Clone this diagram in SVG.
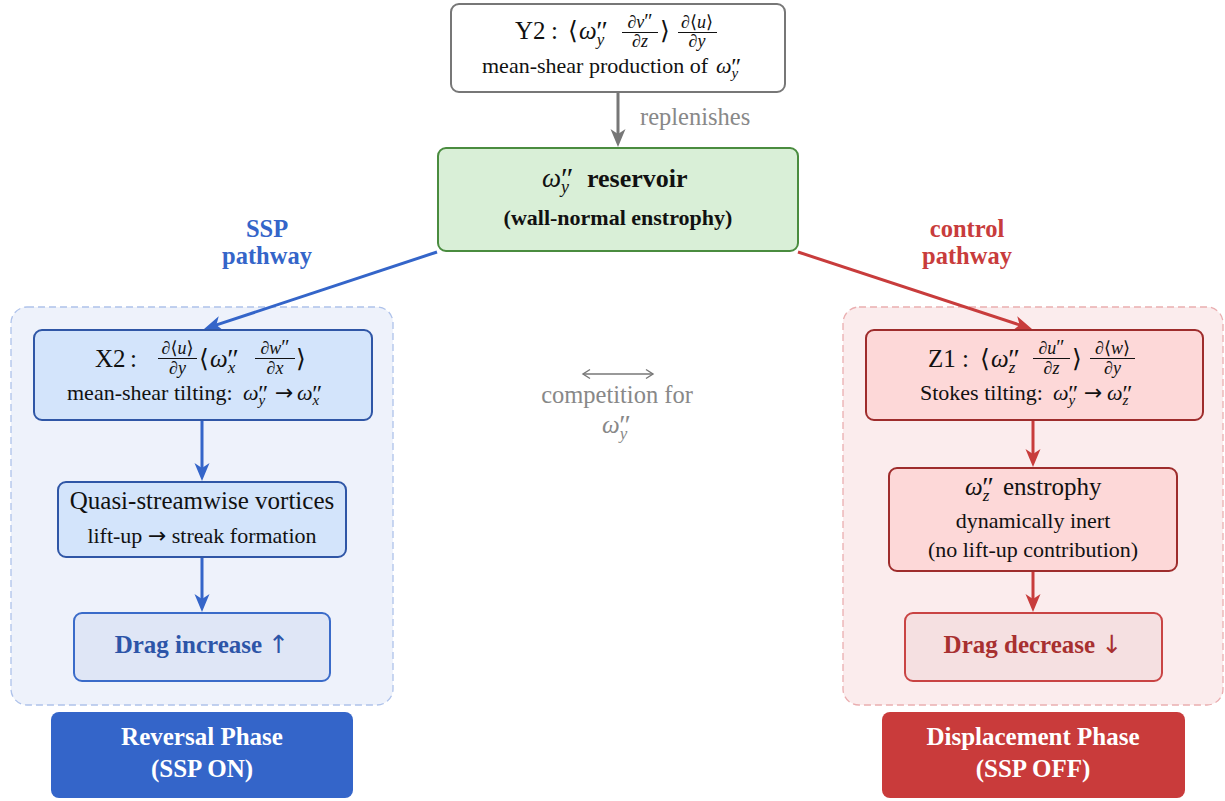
<svg xmlns="http://www.w3.org/2000/svg" width="1225" height="801" viewBox="0 0 1225 801">
  <defs>
    <style>
      text { font-family: "Liberation Serif", "Times New Roman", serif; fill: #111; }
      .it { font-style: italic; }
      .b { font-weight: bold; }
      .ang { font-family: "DejaVu Serif", "DejaVu Sans", serif; font-style: normal; font-weight: normal; }
      .arr { font-family: "DejaVu Sans", sans-serif; font-style: normal; font-weight: normal; }
      .f25 { font-size: 25px; }
      .f22 { font-size: 22px; }
      .f18 { font-size: 18px; }
      .f17 { font-size: 17px; }
      .f15 { font-size: 15px; }
      .pr25 { font-size: 28px; font-style: normal; }
      .pr22 { font-size: 24px; font-style: normal; }
      .pr18 { font-size: 20px; font-style: normal; }
      .mid { text-anchor: middle; }
      .fr { stroke: #111; stroke-width: 1.1; }
      .gray { fill: #888; }
      .blue { fill: #3465c9; }
      .red { fill: #c83c3c; }
      .white { fill: #fff; }
      .node { stroke-width: 2; }
      .conn { fill: none; stroke-width: 3; }
    </style>
    <marker id="ahGray" viewBox="-20 -10 22 20" refX="-10" refY="0" markerWidth="22" markerHeight="20" markerUnits="userSpaceOnUse" orient="auto">
      <path d="M0,0 L-18,-7.5 L-13,0 L-18,7.5 Z" fill="#777"/>
    </marker>
    <marker id="ahBlue" viewBox="-20 -10 22 20" refX="-10" refY="0" markerWidth="22" markerHeight="20" markerUnits="userSpaceOnUse" orient="auto">
      <path d="M0,0 L-18,-7.5 L-13,0 L-18,7.5 Z" fill="#3465c9"/>
    </marker>
    <marker id="ahRed" viewBox="-20 -10 22 20" refX="-10" refY="0" markerWidth="22" markerHeight="20" markerUnits="userSpaceOnUse" orient="auto">
      <path d="M0,0 L-18,-7.5 L-13,0 L-18,7.5 Z" fill="#c83c3c"/>
    </marker>
    <marker id="chev" viewBox="-10 -6 12 12" refX="0" refY="0" markerWidth="12" markerHeight="12" markerUnits="userSpaceOnUse" orient="auto-start-reverse">
      <path d="M-7,-4.5 L0,0 L-7,4.5" fill="none" stroke="#777" stroke-width="1.4"/>
    </marker>
  </defs>

  <rect width="1225" height="801" fill="#fff"/>

  <!-- pathway containers -->
  <g id="group-ssp">
    <rect x="11" y="307" width="382" height="398" rx="16" fill="#eef2fb" stroke="#aec2ea" stroke-width="1.3" stroke-dasharray="7 4"/>
  </g>
  <g id="group-control">
    <rect x="843" y="307" width="380" height="398" rx="16" fill="#fbeced" stroke="#eaaeb0" stroke-width="1.3" stroke-dasharray="7 4"/>
  </g>

  <!-- connectors -->
  <g id="connectors">
    <line class="conn" x1="618" y1="92" x2="618" y2="137" stroke="#777" marker-end="url(#ahGray)"/>
    <line class="conn" x1="437" y1="252" x2="213.5" y2="325.9" stroke="#3465c9" marker-end="url(#ahBlue)"/>
    <line class="conn" x1="798" y1="252" x2="1022.5" y2="325.9" stroke="#c83c3c" marker-end="url(#ahRed)"/>
    <line class="conn" x1="202" y1="420" x2="202" y2="471" stroke="#3465c9" marker-end="url(#ahBlue)"/>
    <line class="conn" x1="202" y1="557" x2="202" y2="602" stroke="#3465c9" marker-end="url(#ahBlue)"/>
    <line class="conn" x1="1033" y1="420" x2="1033" y2="457" stroke="#c83c3c" marker-end="url(#ahRed)"/>
    <line class="conn" x1="1033" y1="571" x2="1033" y2="602" stroke="#c83c3c" marker-end="url(#ahRed)"/>
    <line x1="583" y1="374" x2="653" y2="374" stroke="#777" stroke-width="1.4" marker-start="url(#chev)" marker-end="url(#chev)"/>
  </g>

  <!-- edge labels -->
  <g id="label-replenishes">
    <text x="640" y="125" class="gray" font-size="24.5">replenishes</text>
  </g>
  <g id="label-ssp">
    <text x="267" y="237" class="b blue mid" font-size="24.5">SSP</text>
    <text x="267" y="264" class="b blue mid" font-size="24.5">pathway</text>
  </g>
  <g id="label-control">
    <text x="967" y="237" class="b red mid" font-size="24.5">control</text>
    <text x="967" y="264" class="b red mid" font-size="24.5">pathway</text>
  </g>
  <g id="label-competition">
    <text x="617" y="403" class="gray mid" font-size="24.5">competition for</text>
    <text x="602" y="433" class="gray it f25">ω<tspan class="f17" dy="6">y</tspan><tspan class="pr25" dx="-8" dy="-5">″</tspan></text>
  </g>

  <!-- Y2: mean-shear production -->
  <g id="node-y2">
    <rect class="node" x="451" y="4" width="334" height="88" rx="8" fill="#fff" stroke="#777"/>
    <text y="39" class="f25"><tspan x="515">Y2</tspan><tspan x="551">:</tspan><tspan x="568" class="ang">⟨</tspan><tspan x="579" class="it">ω</tspan><tspan class="it f17" dy="6">y</tspan><tspan class="pr25" dx="-8" dy="-5">″</tspan><tspan x="640" y="28" class="it f18 mid">∂v<tspan class="pr18">″</tspan></tspan><tspan x="640" y="47" class="it f18 mid">∂z</tspan><tspan x="660" y="39" class="ang">⟩</tspan><tspan x="697" y="28" class="f18 mid"><tspan class="it">∂</tspan><tspan class="ang">⟨</tspan><tspan class="it">u</tspan><tspan class="ang">⟩</tspan></tspan><tspan x="697" y="47" class="it f18 mid">∂y</tspan></text>
    <line class="fr" x1="622" y1="32.5" x2="658" y2="32.5"/>
    <line class="fr" x1="678" y1="32.5" x2="717" y2="32.5"/>
    <text y="73" class="f22"><tspan x="482">mean-shear production of</tspan><tspan x="716" class="it">ω</tspan><tspan class="it f15" dy="5">y</tspan><tspan class="pr22" dx="-7" dy="-4">″</tspan></text>
  </g>

  <!-- reservoir -->
  <g id="node-reservoir">
    <rect class="node" x="438" y="148" width="360" height="103" rx="8" fill="#d9efd7" stroke="#4a8c3f"/>
    <text y="187"><tspan x="542" class="it" font-size="27">ω</tspan><tspan class="it" font-size="18" dy="6">y</tspan><tspan font-size="30" dx="-8" dy="-5">″</tspan><tspan x="587" y="187" class="b" font-size="26">reservoir</tspan></text>
    <text x="618" y="225" class="b f22 mid">(wall-normal enstrophy)</text>
  </g>

  <!-- X2: mean-shear tilting -->
  <g id="node-x2">
    <rect class="node" x="34" y="330" width="338" height="90" rx="8" fill="#d3e4fb" stroke="#2f56a6"/>
    <text y="367" class="f25"><tspan x="95">X2</tspan><tspan x="130">:</tspan><tspan x="177.5" y="354" class="f18 mid"><tspan class="it">∂</tspan><tspan class="ang">⟨</tspan><tspan class="it">u</tspan><tspan class="ang">⟩</tspan></tspan><tspan x="177.5" y="373.5" class="it f18 mid">∂y</tspan><tspan x="199" y="367" class="ang">⟨</tspan><tspan x="210" class="it">ω</tspan><tspan class="it f17" dy="6">x</tspan><tspan class="pr25" dx="-8" dy="-5">″</tspan><tspan x="275" y="354" class="it f18 mid">∂w<tspan class="pr18">″</tspan></tspan><tspan x="275" y="373.5" class="it f18 mid">∂x</tspan><tspan x="296" y="367" class="ang">⟩</tspan></text>
    <line class="fr" x1="158" y1="358.5" x2="197" y2="358.5"/>
    <line class="fr" x1="255" y1="358.5" x2="295" y2="358.5"/>
    <text y="400" class="f22"><tspan x="67">mean-shear tilting:</tspan><tspan x="243" class="it">ω</tspan><tspan class="it f15" dy="5">y</tspan><tspan class="pr22" dx="-7" dy="-4">″</tspan><tspan x="275" y="400" class="arr">→</tspan><tspan x="297" class="it">ω</tspan><tspan class="it f15" dy="5">x</tspan><tspan class="pr22" dx="-7" dy="-4">″</tspan></text>
  </g>

  <!-- quasi-streamwise vortices -->
  <g id="node-qsv">
    <rect class="node" x="58" y="482" width="288" height="75" rx="8" fill="#d3e4fb" stroke="#2f56a6"/>
    <text x="202" y="509" class="f25 mid">Quasi-streamwise vortices</text>
    <text x="202" y="543" class="f22 mid">lift-up <tspan class="arr">→</tspan> streak formation</text>
  </g>

  <!-- drag increase -->
  <g id="node-drag-increase">
    <rect class="node" x="74" y="613" width="256" height="68" rx="8" fill="#dfe6f6" stroke="#3a6bc9"/>
    <text x="202" y="653" class="b f25 mid" style="fill:#2d55a8">Drag increase <tspan class="arr" style="fill:#2d55a8">↑</tspan></text>
  </g>

  <!-- reversal phase -->
  <g id="node-reversal">
    <rect x="51" y="712" width="302" height="86" rx="8" fill="#3465c9"/>
    <text x="202" y="745" class="b f25 mid white">Reversal Phase</text>
    <text x="202" y="777" class="b f25 mid white">(SSP ON)</text>
  </g>

  <!-- Z1: Stokes tilting -->
  <g id="node-z1">
    <rect class="node" x="866" y="330" width="337" height="90" rx="8" fill="#fdd8d8" stroke="#9e2c2c"/>
    <text y="367" class="f25"><tspan x="928">Z1</tspan><tspan x="962">:</tspan><tspan x="980" class="ang">⟨</tspan><tspan x="991" class="it">ω</tspan><tspan class="it f17" dy="6">z</tspan><tspan class="pr25" dx="-7" dy="-5">″</tspan><tspan x="1051.5" y="354" class="it f18 mid">∂u<tspan class="pr18">″</tspan></tspan><tspan x="1051.5" y="373.5" class="it f18 mid">∂z</tspan><tspan x="1072" y="367" class="ang">⟩</tspan><tspan x="1112.5" y="354" class="f18 mid"><tspan class="it">∂</tspan><tspan class="ang">⟨</tspan><tspan class="it">w</tspan><tspan class="ang">⟩</tspan></tspan><tspan x="1112.5" y="373.5" class="it f18 mid">∂y</tspan></text>
    <line class="fr" x1="1033" y1="358.5" x2="1070" y2="358.5"/>
    <line class="fr" x1="1090" y1="358.5" x2="1135" y2="358.5"/>
    <text y="400" class="f22"><tspan x="920">Stokes tilting:</tspan><tspan x="1053" class="it">ω</tspan><tspan class="it f15" dy="5">y</tspan><tspan class="pr22" dx="-7" dy="-4">″</tspan><tspan x="1084" y="400" class="arr">→</tspan><tspan x="1107" class="it">ω</tspan><tspan class="it f15" dy="5">z</tspan><tspan class="pr22" dx="-6" dy="-4">″</tspan></text>
  </g>

  <!-- spanwise enstrophy -->
  <g id="node-wz">
    <rect class="node" x="889" y="468" width="288" height="103" rx="8" fill="#fdd8d8" stroke="#9e2c2c"/>
    <text y="495" class="f25"><tspan x="965" class="it">ω</tspan><tspan class="it f17" dy="6">z</tspan><tspan class="pr25" dx="-7" dy="-5">″</tspan><tspan x="1003" y="495">enstrophy</tspan></text>
    <text x="1033" y="528" class="f22 mid">dynamically inert</text>
    <text x="1033" y="557" class="f22 mid">(no lift-up contribution)</text>
  </g>

  <!-- drag decrease -->
  <g id="node-drag-decrease">
    <rect class="node" x="905" y="613" width="257" height="68" rx="8" fill="#f5e0e1" stroke="#c94444"/>
    <text x="1033" y="653" class="b f25 mid" style="fill:#a83030">Drag decrease <tspan class="arr" style="fill:#a83030">↓</tspan></text>
  </g>

  <!-- displacement phase -->
  <g id="node-displacement">
    <rect x="882" y="712" width="303" height="86" rx="8" fill="#c93b3b"/>
    <text x="1033" y="745" class="b f25 mid white">Displacement Phase</text>
    <text x="1033" y="777" class="b f25 mid white">(SSP OFF)</text>
  </g>
</svg>
